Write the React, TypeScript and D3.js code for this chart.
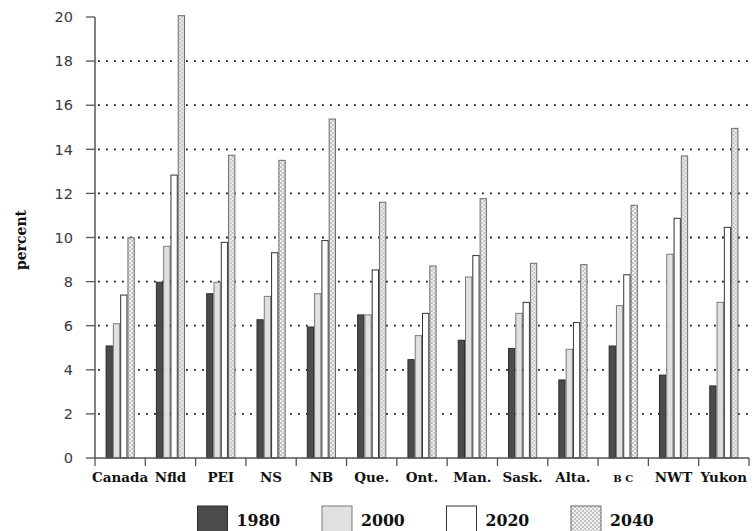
import React from "react";
import * as d3 from "d3";

const categories = ["Canada", "Nfld", "PEI", "NS", "NB", "Que.", "Ont.", "Man.", "Sask.", "Alta.", "B C", "NWT", "Yukon"];
const seriesNames = ["1980", "2000", "2020", "2040"];
const v1980 = [5.08, 7.97, 7.45, 6.27, 5.94, 6.49, 4.46, 5.34, 4.97, 3.54, 5.08, 3.76, 3.27];
const v2000 = [6.09, 9.6, 7.97, 7.33, 7.45, 6.49, 5.55, 8.21, 6.56, 4.93, 6.91, 9.24, 7.06];
const v2020 = [7.39, 12.83, 9.78, 9.31, 9.86, 8.53, 6.56, 9.18, 7.06, 6.14, 8.31, 10.87, 10.46];
const v2040 = [9.99, 20.06, 13.73, 13.5, 15.37, 11.6, 8.71, 11.76, 8.83, 8.77, 11.46, 13.7, 14.95];
const yTicks = [0, 2, 4, 6, 8, 10, 12, 14, 16, 18, 20];

const seriesValues = [v1980, v2000, v2020, v2040];
const fills = ["#4b4b4b", "#e0e0e0", "#ffffff", "url(#chk)"];
const strokes = ["#2e2e2e", "#7a7a7a", "#333333", "#6a6a6a"];

const W = 755;
const H = 531;
const left = 95;
const right = 749;
const top = 17;
const bottom = 458;

const serif = "'DejaVu Serif', serif";
const serifCond = "'DejaVu Serif Condensed', 'DejaVu Serif', serif";

export default function App() {
  const x0 = d3.scaleBand<string>().domain(categories).range([left, right]).padding(0);
  const bw = x0.bandwidth();
  const x1 = d3.scaleBand<string>().domain(seriesNames).range([bw * 0.21, bw * 0.79]).padding(0);
  const y = d3.scaleLinear().domain([0, 20]).range([bottom, top]);

  const legendX = d3.scalePoint<string>().domain(seriesNames).range([197.5, 571]);

  return (
    <svg
      width={W}
      height={H}
      style={{ position: "absolute", left: 0, top: 0, background: "#fff" }}
    >
      <defs>
        <pattern id="chk" width="4" height="4" patternUnits="userSpaceOnUse">
          <rect width="4" height="4" fill="#f1f1f1" />
          <rect x="0" y="0" width="2" height="2" fill="#c2c2c2" />
          <rect x="2" y="2" width="2" height="2" fill="#c2c2c2" />
        </pattern>
      </defs>

      {/* gridlines */}
      {yTicks.filter((t) => t > 0 && t < 20).map((t) => (
        <line
          key={"g" + t}
          x1={left + 3}
          x2={right}
          y1={y(t)}
          y2={y(t)}
          stroke="#1a1a1a"
          strokeWidth={1.8}
          strokeDasharray="1.8 6.2"
        />
      ))}

      {/* bars */}
      {categories.map((c, i) => (
        <g key={c} transform={`translate(${x0(c)},0)`}>
          {seriesNames.map((s, j) => {
            const v = seriesValues[j][i];
            return (
              <rect
                key={s}
                x={(x1(s) as number) + 0.5}
                y={y(v)}
                width={x1.bandwidth() - 1}
                height={y(0) - y(v)}
                fill={fills[j]}
                stroke={strokes[j]}
                strokeWidth={1}
              />
            );
          })}
        </g>
      ))}

      {/* y axis */}
      <line x1={left} x2={left} y1={top} y2={bottom} stroke="#555" strokeWidth={1.5} />
      {yTicks.map((t) => (
        <g key={"t" + t}>
          <line x1={left - 9} x2={left} y1={y(t)} y2={y(t)} stroke="#555" strokeWidth={1.3} />
          <text
            x={73}
            y={y(t)}
            dy="0.36em"
            textAnchor="end"
            fontFamily="'DejaVu Sans', sans-serif"
            fontSize={14.5}
            fill="#3a3a3a"
          >
            {t}
          </text>
        </g>
      ))}
      <text
        transform={`translate(26,240) rotate(-90)`}
        textAnchor="middle"
        fontFamily={serif}
        fontWeight="bold"
        fontSize={14}
        fill="#111"
      >
        percent
      </text>

      {/* x axis */}
      <line x1={left} x2={right} y1={bottom} y2={bottom} stroke="#555" strokeWidth={1.5} />
      {d3.range(categories.length + 1).map((k) => {
        const xx = left + k * bw;
        return <line key={"xt" + k} x1={xx} x2={xx} y1={bottom} y2={bottom + 8} stroke="#555" strokeWidth={1.3} />;
      })}
      {categories.map((c) => (
        <text
          key={"l" + c}
          x={(x0(c) as number) + bw / 2}
          y={482}
          textAnchor="middle"
          fontFamily={serif}
          fontWeight="bold"
          fontSize={c === "B C" ? 10 : 13.5}
          fill="#111"
        >
          {c}
        </text>
      ))}

      {/* legend */}
      {seriesNames.map((s, j) => {
        const lx = legendX(s) as number;
        return (
          <g key={"lg" + s}>
            <rect x={lx} y={506} width={30} height={26} fill={fills[j]} stroke={strokes[j]} strokeWidth={1} />
            <text
              x={lx + 39}
              y={526}
              fontFamily={serifCond}
              fontWeight="bold"
              fontSize={17.5}
              fill="#111"
            >
              {s}
            </text>
          </g>
        );
      })}
    </svg>
  );
}
